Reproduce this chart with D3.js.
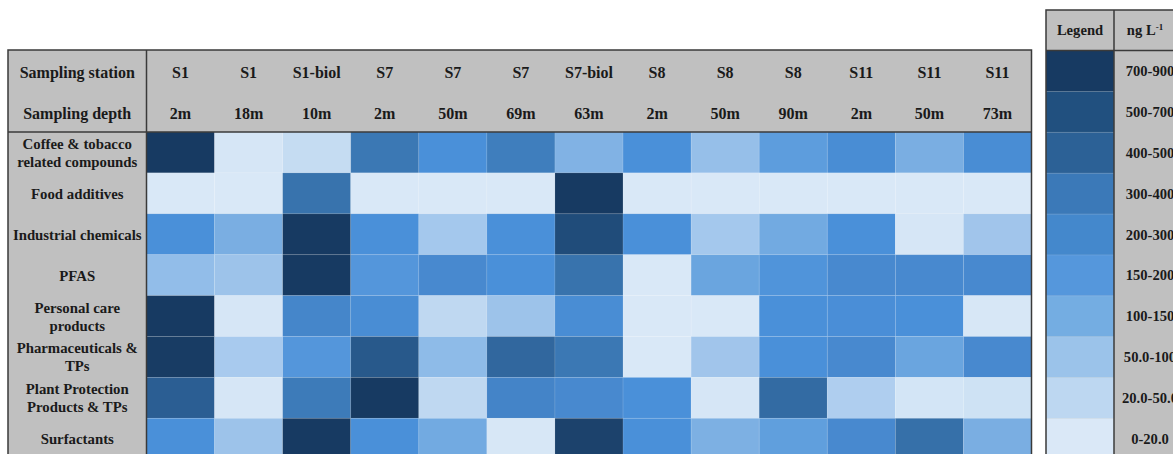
<!DOCTYPE html>
<html>
<head>
<meta charset="utf-8">
<script src="https://cdn.jsdelivr.net/npm/d3@7"></script>
<style>
  body { margin: 0; background: #fff; }
  svg text { font-family: "Liberation Serif", "Times New Roman", serif; font-weight: bold; fill: #1a1a1a; }
</style>
</head>
<body>
<svg id="chart" width="1173" height="454"></svg>
<script>
// stations and depths (columns)
let stations = ['S1', 'S1', 'S1-biol', 'S7', 'S7', 'S7', 'S7-biol', 'S8', 'S8', 'S8', 'S11', 'S11', 'S11'];
let depths = ['2m', '18m', '10m', '2m', '50m', '69m', '63m', '2m', '50m', '90m', '2m', '50m', '73m'];

// compound classes (rows)
let classes = [
    ['Coffee & tobacco', 'related compounds'],
    ['Food additives'],
    ['Industrial chemicals'],
    ['PFAS'],
    ['Personal care', 'products'],
    ['Pharmaceuticals &', 'TPs'],
    ['Plant Protection', 'Products & TPs'],
    ['Surfactants']
];

// concentrations, ng/L (estimated from the shading)
let coffee     = [800, 10, 30, 370, 200, 330, 120, 200, 90, 170, 220, 130, 220];
let food       = [5, 5, 400, 5, 5, 5, 850, 5, 5, 5, 5, 5, 5];
let industrial = [200, 130, 800, 200, 70, 200, 620, 200, 70, 140, 200, 10, 75];
let pfas       = [95, 80, 800, 185, 240, 200, 400, 5, 150, 190, 240, 240, 240];
let personal   = [800, 10, 270, 220, 35, 80, 220, 5, 5, 200, 210, 200, 8];
let pharma     = [780, 65, 185, 550, 100, 470, 370, 5, 75, 200, 240, 150, 240];
let plant      = [520, 10, 350, 820, 35, 280, 240, 200, 10, 450, 55, 15, 22];
let surfact    = [200, 80, 800, 200, 140, 8, 700, 200, 125, 165, 240, 420, 130];
let values = [coffee, food, industrial, pfas, personal, pharma, plant, surfact];

// legend bins
let legendLabels = ['700-900', '500-700', '400-500', '300-400', '200-300', '150-200', '100-150', '50.0-100', '20.0-50.0', '0-20.0'];
let legendColors = ['#173a62', '#21507f', '#2c6196', '#3b79b8', '#4488cc', '#5597dc', '#74ade2', '#9bc3ea', '#bdd7f1', '#dae8f7'];

let svg = d3.select('#chart');
let grey = '#c0c0c0', lineCol = '#3a3a3a';

// main table geometry
let tLeft = 8, tTop = 50, labelW = 138.5, headH = 82, rowH = 40.9, tRight = 1031.5;

let x = d3.scaleBand()
    .domain(d3.range(stations.length))
    .range([tLeft + labelW, tRight]);
let y = d3.scaleBand()
    .domain(d3.range(classes.length))
    .range([tTop + headH, tTop + headH + rowH * classes.length]);

let color = d3.scaleLinear()
    .domain([0, 20, 35, 60, 80, 100, 130, 150, 200, 240, 300, 400, 500, 600, 700, 800, 900])
    .range(['#dce9f7', '#d0e3f5', '#bfd8f1', '#abccef', '#9dc3ea', '#8ebbe8', '#7aaee2', '#6aa5df',
            '#4a90d9', '#4889cf', '#4282c4', '#3873ad', '#2e6298', '#214f7e', '#1c426c', '#173a62', '#173a62']);

let tBottom = y.range()[1];

// grey backgrounds
svg.append('rect')
    .attr('x', tLeft).attr('y', tTop)
    .attr('width', tRight - tLeft).attr('height', headH)
    .attr('fill', grey);
svg.append('rect')
    .attr('x', tLeft).attr('y', tTop)
    .attr('width', labelW).attr('height', tBottom - tTop)
    .attr('fill', grey);

// heat cells
let rows = svg.append('g').selectAll('g')
    .data(values).enter().append('g');
rows.selectAll('rect')
    .data((d, i) => d.map((v, j) => ({ r: i, c: j, v: v })))
    .enter().append('rect')
    .attr('x', d => x(d.c))
    .attr('y', d => y(d.r))
    .attr('width', x.bandwidth())
    .attr('height', y.bandwidth())
    .attr('fill', d => color(d.v))
    .attr('stroke', 'rgba(255,255,255,0.12)')
    .attr('stroke-width', 0.8);

// header texts
let head = svg.append('g').attr('font-size', 16);
head.append('text')
    .attr('x', tLeft + labelW / 2).attr('y', 78)
    .attr('text-anchor', 'middle')
    .text('Sampling station');
head.append('text')
    .attr('x', tLeft + labelW / 2).attr('y', 119)
    .attr('text-anchor', 'middle')
    .text('Sampling depth');
head.selectAll('.st')
    .data(stations).enter().append('text')
    .attr('class', 'st')
    .attr('x', (d, i) => x(i) + x.bandwidth() / 2).attr('y', 78)
    .attr('text-anchor', 'middle')
    .text(d => d);
head.selectAll('.dp')
    .data(depths).enter().append('text')
    .attr('class', 'dp')
    .attr('x', (d, i) => x(i) + x.bandwidth() / 2).attr('y', 119)
    .attr('text-anchor', 'middle')
    .text(d => d);

// row labels
svg.append('g').attr('font-size', 14.8)
    .selectAll('text')
    .data(classes).enter().append('text')
    .attr('text-anchor', 'middle')
    .attr('x', tLeft + labelW / 2)
    .attr('y', (d, i) => y(i) + y.bandwidth() / 2 + 5.5 - (d.length - 1) * 9)
    .selectAll('tspan')
    .data(d => d).enter().append('tspan')
    .attr('x', tLeft + labelW / 2)
    .attr('dy', (d, i) => i > 0 ? 18 : 0)
    .text(d => d);

// table lines
svg.append('rect')
    .attr('x', tLeft).attr('y', tTop)
    .attr('width', tRight - tLeft).attr('height', tBottom - tTop)
    .attr('fill', 'none').attr('stroke', lineCol).attr('stroke-width', 1.5);
svg.append('line')
    .attr('x1', tLeft).attr('x2', tRight)
    .attr('y1', tTop + headH).attr('y2', tTop + headH)
    .attr('stroke', lineCol).attr('stroke-width', 1.5);
svg.append('line')
    .attr('x1', tLeft + labelW).attr('x2', tLeft + labelW)
    .attr('y1', tTop).attr('y2', tBottom)
    .attr('stroke', lineCol).attr('stroke-width', 1.5);

// legend table
let lx = 1046, ly = 10, lw1 = 68, lw2 = 72, lHead = 40.5, lRow = 40.9;
let ly0 = ly + lHead;
let lyScale = d3.scaleBand()
    .domain(d3.range(legendLabels.length))
    .range([ly0, ly0 + lRow * legendLabels.length]);
let lcol = d3.scaleOrdinal().domain(legendLabels).range(legendColors);
let lBottom = lyScale.range()[1];

let leg = svg.append('g');
leg.append('rect')
    .attr('x', lx).attr('y', ly)
    .attr('width', lw1 + lw2).attr('height', lBottom - ly)
    .attr('fill', grey);
leg.selectAll('rect.sw')
    .data(legendLabels).enter().append('rect')
    .attr('class', 'sw')
    .attr('x', lx)
    .attr('y', (d, i) => lyScale(i))
    .attr('width', lw1)
    .attr('height', lyScale.bandwidth())
    .attr('fill', d => lcol(d))
    .attr('stroke', 'rgba(255,255,255,0.12)')
    .attr('stroke-width', 0.8);
leg.selectAll('text.lb')
    .data(legendLabels).enter().append('text')
    .attr('class', 'lb')
    .attr('font-size', 14.6)
    .attr('text-anchor', 'middle')
    .attr('x', lx + lw1 + 36)
    .attr('y', (d, i) => lyScale(i) + lyScale.bandwidth() / 2 + 5)
    .text(d => d);
leg.append('text')
    .attr('font-size', 14.6)
    .attr('text-anchor', 'middle')
    .attr('x', lx + lw1 / 2).attr('y', ly + lHead / 2 + 5)
    .text('Legend');
let unit = leg.append('text')
    .attr('font-size', 14.6)
    .attr('text-anchor', 'middle')
    .attr('x', lx + lw1 + 31).attr('y', ly + lHead / 2 + 5);
unit.append('tspan').text('ng L');
unit.append('tspan').attr('font-size', 9).attr('dy', -5).text('-1');

leg.append('rect')
    .attr('x', lx).attr('y', ly)
    .attr('width', lw1 + lw2).attr('height', lBottom - ly)
    .attr('fill', 'none').attr('stroke', lineCol).attr('stroke-width', 1.5);
leg.append('line')
    .attr('x1', lx).attr('x2', lx + lw1 + lw2)
    .attr('y1', ly0).attr('y2', ly0)
    .attr('stroke', lineCol).attr('stroke-width', 1.5);
leg.append('line')
    .attr('x1', lx + lw1).attr('x2', lx + lw1)
    .attr('y1', ly).attr('y2', lBottom)
    .attr('stroke', lineCol).attr('stroke-width', 1.5);
</script>
</body>
</html>
